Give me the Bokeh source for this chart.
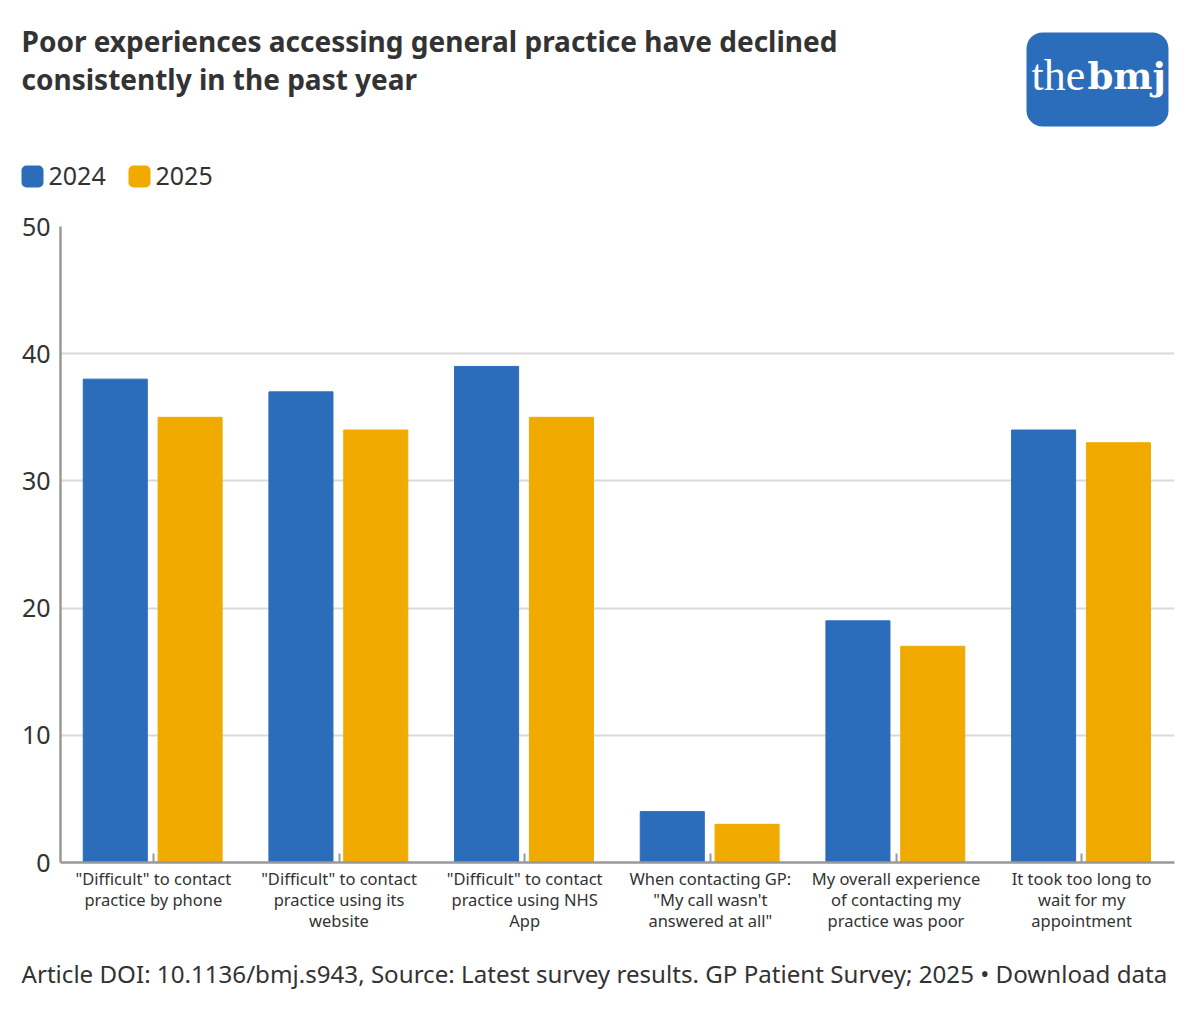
from bokeh.core.properties import value
from bokeh.embed import file_html
from bokeh.resources import INLINE
from bokeh.plotting import figure
from bokeh.layouts import column
from bokeh.models import ColumnDataSource, FactorRange, Range1d
from bokeh.transform import dodge

categories = ['"Difficult" to contact\npractice by phone',
              '"Difficult" to contact\npractice using its\nwebsite',
              '"Difficult" to contact\npractice using NHS\nApp',
              'When contacting GP:\n"My call wasn\'t\nanswered at all"',
              'My overall experience\nof contacting my\npractice was poor',
              'It took too long to\nwait for my\nappointment']
values_2024 = [38, 37, 39, 4, 19, 34]
values_2025 = [35, 34, 35, 3, 17, 33]
y_ticks = [0, 10, 20, 30, 40, 50]
series_names = ["2024", "2025"]
title_text = "Poor experiences accessing general practice have declined\nconsistently in the past year"
footer_text = "Article DOI: 10.1136/bmj.s943, Source: Latest survey results. GP Patient Survey; 2025 \u2022 Download data"

BLUE, AMBER, INK = "#2b6dbb", "#f0aa00", "#333333"
FONT = "Noto Sans"
W = 1184
HEAD_H, MAIN_H, FOOT_H = 200, 745, 49
FRAME_TOP, FRAME_BOTTOM, FRAME_RIGHT, FRAME_LEFT = 226, 862, 1174, 60


def strip(height, y_start):
    f = figure(width=W, height=height, output_backend="svg", toolbar_location=None,
               x_range=Range1d(0, W), y_range=Range1d(y_start + height, y_start),
               min_border=0, x_axis_location=None, y_axis_location=None)
    f.grid.visible = False
    f.outline_line_color = None
    return f


def txt(f, x, y, s, size, style="normal", color=INK, font=FONT, lh=1.2):
    f.text(x=[x], y=[y], text=[s], text_font=value(font), text_font_size=value(size),
           text_font_style=style, text_color=color, text_align="left",
           text_baseline="middle", text_line_height=lh)


def box(f, x0, y0, x1, y1, color, r):
    f.quad(left=[x0], right=[x1], top=[y0], bottom=[y1], fill_color=color, line_color=None,
           border_radius=r)


head = strip(HEAD_H, 0)
txt(head, 21, 59.5, title_text, "28px", "bold", lh=1.0)
box(head, 21, 165, 43, 187, BLUE, 5)
box(head, 128, 165, 150, 187, AMBER, 5)
txt(head, 48, 175, series_names[0], "25px")
txt(head, 155, 175, series_names[1], "25px")
box(head, 1026, 32, 1168, 126, BLUE, 16)
txt(head, 1031, 75, "the", "44px", color="white", font="Liberation Serif")
txt(head, 1087, 75, "bmj", "37px", "bold", color="white", font="DejaVu Serif")

p = figure(width=W, height=MAIN_H, output_backend="svg", toolbar_location=None,
           x_range=FactorRange(factors=categories, range_padding=0, factor_padding=0),
           y_range=Range1d(0, 50),
           min_border_left=FRAME_LEFT, min_border_right=W - FRAME_RIGHT,
           min_border_top=FRAME_TOP - HEAD_H,
           min_border_bottom=HEAD_H + MAIN_H - FRAME_BOTTOM)
p.outline_line_color = None
src = ColumnDataSource(dict(c=categories, a=values_2024, b=values_2025))
p.vbar(x=dodge("c", -0.205, range=p.x_range), top="a", width=0.345, color=BLUE, source=src)
p.vbar(x=dodge("c", 0.198, range=p.x_range), top="b", width=0.345, color=AMBER, source=src)

p.xgrid.visible = False
p.ygrid.grid_line_color = "#d9d9d9"
p.ygrid.grid_line_width = 2
p.yaxis.ticker = y_ticks
p.yaxis.major_tick_line_color = None
p.yaxis.minor_tick_line_color = None
p.yaxis.axis_line_color = "#999999"
p.yaxis.axis_line_width = 2.5
p.yaxis.major_label_text_font = FONT
p.yaxis.major_label_text_font_size = "25px"
p.yaxis.major_label_text_color = INK
p.yaxis.major_label_standoff = 4
p.xaxis.axis_line_color = "#999999"
p.xaxis.axis_line_width = 2.5
p.xaxis.major_tick_line_color = "#999999"
p.xaxis.major_tick_line_width = 2
p.xaxis.major_tick_in = 9
p.xaxis.major_tick_out = 0
p.xaxis.major_label_text_font = FONT
p.xaxis.major_label_text_font_size = "16.5px"
p.xaxis.major_label_text_color = INK
p.xaxis.major_label_text_line_height = 0.93
p.xaxis.major_label_standoff = 4
p.xaxis.major_label_orientation = "horizontal"

foot = strip(FOOT_H, HEAD_H + MAIN_H)
txt(foot, 21, 973, footer_text, "24.13px")

page = column(column(head), column(p), column(foot), spacing=0)
open("out.html", "w").write(file_html(page, INLINE))
